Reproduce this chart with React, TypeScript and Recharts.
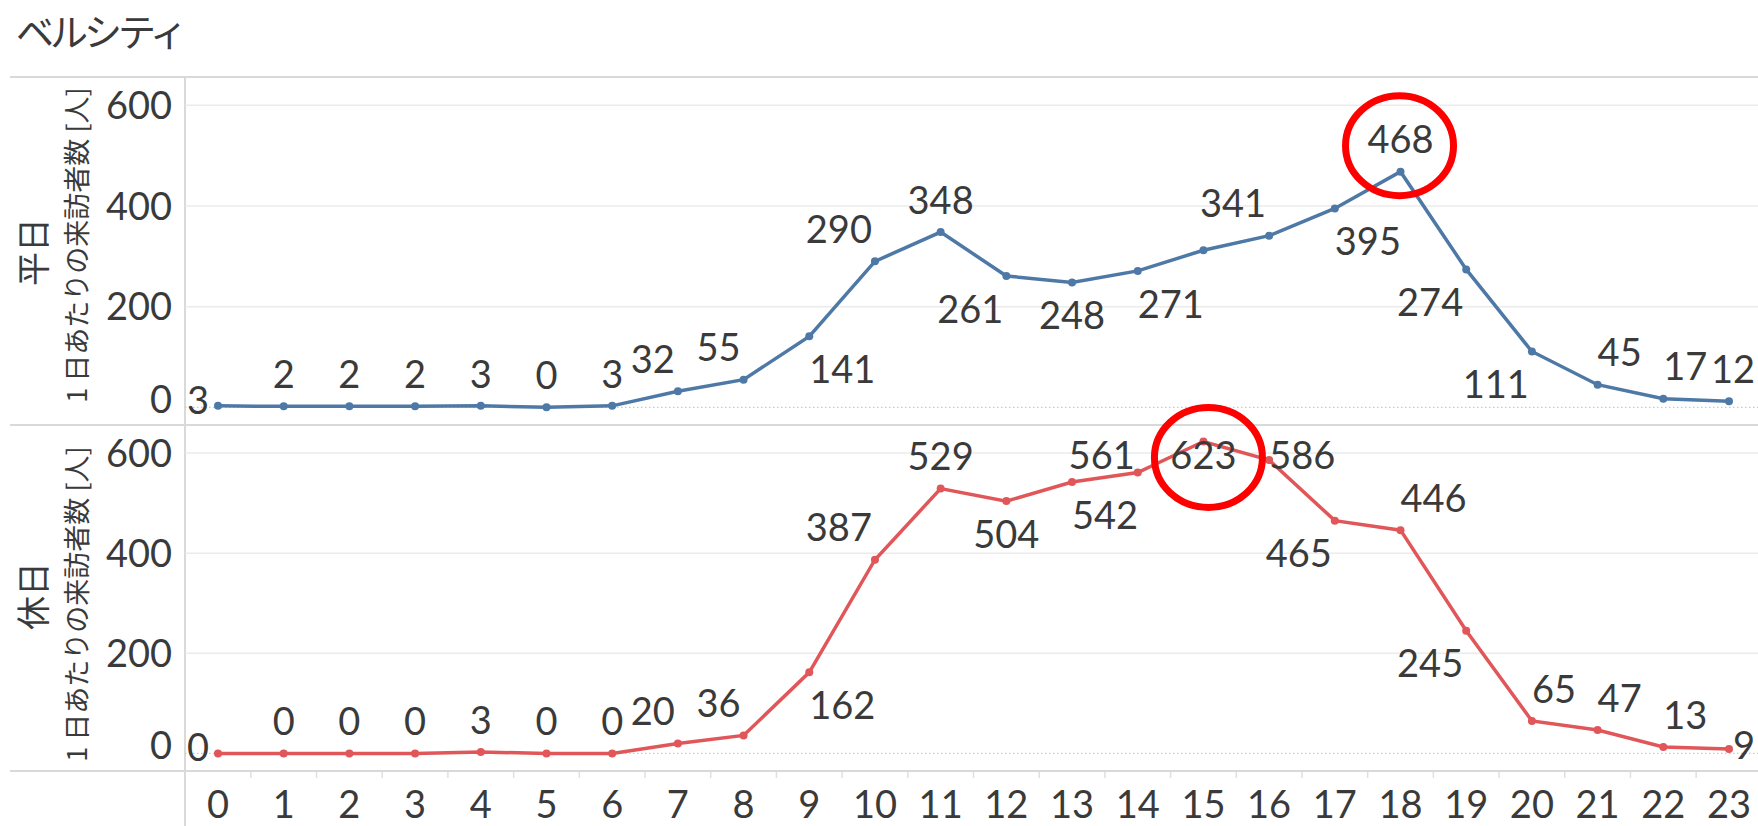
import { LineChart, Line, XAxis, YAxis, ReferenceLine, ReferenceDot, LabelList } from 'recharts'

// hourly visitors per day, ベルシティ
const HOURS = ['0', '1', '2', '3', '4', '5', '6', '7', '8', '9', '10', '11', '12', '13', '14', '15', '16', '17', '18', '19', '20', '21', '22', '23']
const WEEKDAY = [3, 2, 2, 2, 3, 0, 3, 32, 55, 141, 290, 348, 261, 248, 271, 312, 341, 395, 468, 274, 111, 45, 17, 12]
const HOLIDAY = [0, 0, 0, 0, 3, 0, 0, 20, 36, 162, 387, 529, 504, 542, 561, 623, 586, 465, 446, 245, 65, 47, 13, 9]
const Y_TICKS = [0, 200, 400, 600]

// where each value label sits relative to its point (t/b = above/below, l/r = side)
const WEEKDAY_LABEL_POS = ['l', 't', 't', 't', 't', 't', 't', 'tl', 'tl', 'br', 'tl', 't', 'bl', 'b', 'br', '', 'tl', 'br', 't', 'bl', 'bl', 'tr', 'tr', 'tr']
const HOLIDAY_LABEL_POS = ['l', 't', 't', 't', 't', 't', 't', 'tl', 'tl', 'br', 'tl', 't', 'b', 'br', 'tl', 't', 'tr', 'bl', 'tr', 'bl', 'tr', 'tr', 'tr', 'r']

const data = HOURS.map((hour, i) => ({ hour, weekday: WEEKDAY[i], holiday: HOLIDAY[i] }))

const BLUE = '#4e79a7'
const RED = '#e15759'
const TEXT = '#3a3a3a'
const BORDER = '#d9d9d9'
const NUM_FONT = 'Lato, "Noto Sans", sans-serif'
const JP_FONT = '"Noto Sans CJK JP", "Noto Sans", sans-serif'
const FS = 38

const W = 1758
const AXIS_W = 185
const PAD_L = 33
const PAD_R = 29
const STEP = (W - AXIS_W - PAD_L - PAD_R) / (HOURS.length - 1)
const DOMAIN: [number, number] = [-35, 656]
const TOP_M = 30

const makeLabel = (places: string[]) => (props: any) => {
  const vb = props.viewBox || {}
  const px = props.x ?? vb.x
  const py = props.y ?? vb.y
  const p = places[props.index]
  if (!p || px == null || py == null) return null
  let cy = py
  let dx = 0
  let anchor: 'start' | 'middle' | 'end' = 'middle'
  if (p[0] === 't') cy = py - 32
  else if (p[0] === 'b') cy = py + 33
  else if (p === 'l') {
    cy = py - 6
    dx = -9
    anchor = 'end'
  } else if (p === 'r') {
    cy = py - 4
    dx = 6
    anchor = 'start'
  }
  if (p.length === 2) {
    if (p[1] === 'l') {
      anchor = 'end'
      dx = -3
    } else {
      anchor = 'start'
      dx = 0
    }
  }
  let tx = px + dx
  if (anchor === 'start') {
    // nudge back inside the right edge
    const width = String(props.value).length * FS * 0.58
    tx = Math.min(tx, W - 3 - width)
  }
  // keep labels inside the pane
  cy = Math.max(cy, TOP_M + 30)
  return (
    <text x={tx} y={cy + FS * 0.36} textAnchor={anchor} fill={TEXT} fontSize={FS} fontFamily={NUM_FONT}>
      {props.value}
    </text>
  )
}

const YTick = (props: any) => {
  const { x, y, payload } = props
  const shift = payload.value === 0 ? -8 : 0
  return (
    <text x={x} y={y + shift + FS * 0.36} textAnchor="end" fill={TEXT} fontSize={FS} fontFamily={NUM_FONT}>
      {payload.value}
    </text>
  )
}

const XTick = (props: any) => {
  const { x, y, payload, index } = props
  const half = STEP / 2
  return (
    <g>
      {index > 0 && <line x1={x - half} x2={x - half} y1={y + 1} y2={y + 7} stroke="#e0e0e0" strokeWidth={1.5} />}
      <text x={x} y={y + 33 + FS * 0.36} textAnchor="middle" fill={TEXT} fontSize={FS} fontFamily={NUM_FONT}>
        {payload.value}
      </text>
    </g>
  )
}

const Highlight = (dy: number, dx: number) => (props: any) => (
  <ellipse cx={props.cx + dx} cy={props.cy + dy} rx={54} ry={50} fill="none" stroke="#ff0000" strokeWidth={7} />
)

function Pane({ dataKey, color, places, peakHour, peakValue, circleDx, circleDy, showX, top, height }: any) {
  return (
    <div style={{ position: 'absolute', left: 0, top }}>
      <LineChart width={W} height={height} data={data} margin={{ top: TOP_M, right: 0, bottom: 0, left: 0 }}>
        <XAxis
          dataKey="hour"
          hide={!showX}
          height={55}
          padding={{ left: PAD_L, right: PAD_R }}
          axisLine={false}
          tickLine={false}
          tickSize={0}
          tickMargin={0}
          interval={0}
          tick={<XTick />}
        />
        <YAxis
          width={AXIS_W}
          domain={DOMAIN}
          allowDataOverflow
          ticks={Y_TICKS}
          axisLine={false}
          tickLine={false}
          tickSize={0}
          tickMargin={13}
          tick={<YTick />}
        />
        {Y_TICKS.filter((v) => v > 0).map((v) => (
          <ReferenceLine key={v} y={v} stroke="#ebebeb" strokeWidth={1.5} />
        ))}
        <ReferenceLine y={0} stroke="#c9c9c9" strokeWidth={1.2} strokeDasharray="1.5 2.5" />
        <Line
          type="linear"
          dataKey={dataKey}
          stroke={color}
          strokeWidth={3.5}
          dot={{ r: 4, fill: color, stroke: color, strokeWidth: 0 }}
          activeDot={false}
          isAnimationActive={false}
        >
          <LabelList dataKey={dataKey} content={makeLabel(places)} />
        </Line>
        <ReferenceDot x={peakHour} y={peakValue} r={1} ifOverflow="visible" shape={Highlight(circleDy, circleDx)} />
      </LineChart>
    </div>
  )
}

const Rotated = ({ cx, cy, size, children }: any) => (
  <div
    style={{
      position: 'absolute',
      left: cx,
      top: cy,
      transform: 'translate(-50%, -50%) rotate(-90deg)',
      whiteSpace: 'nowrap',
      lineHeight: 1,
      fontSize: size,
      fontFamily: JP_FONT,
      color: TEXT,
    }}
  >
    {children}
  </div>
)

export default function App() {
  return (
    <div style={{ position: 'fixed', left: 0, top: 0, width: W, height: 826, background: '#fff', overflow: 'hidden' }}>
      <div style={{ position: 'absolute', left: 16, top: 11, fontSize: 38, lineHeight: '38px', fontFamily: JP_FONT, color: TEXT, letterSpacing: -4 }}>
        ベルシティ
      </div>

      <div style={{ position: 'absolute', left: 10, top: 76, width: W - 10, height: 2, background: BORDER }} />
      <div style={{ position: 'absolute', left: 10, top: 424, width: W - 10, height: 2, background: BORDER }} />
      <div style={{ position: 'absolute', left: 10, top: 770, width: W - 10, height: 2, background: BORDER }} />
      <div style={{ position: 'absolute', left: 184, top: 77, width: 2, height: 749, background: BORDER }} />

      <Rotated cx={32} cy={252} size={34}>平日</Rotated>
      <Rotated cx={75} cy={245} size={27}>1 日あたりの来訪者数 [人]</Rotated>
      <Rotated cx={32} cy={596} size={34}>休日</Rotated>
      <Rotated cx={75} cy={604} size={27}>1 日あたりの来訪者数 [人]</Rotated>

      <Pane dataKey="weekday" color={BLUE} places={WEEKDAY_LABEL_POS} peakHour="18" peakValue={468} circleDx={-1} circleDy={-26} showX={false} top={47} height={378} />
      <Pane dataKey="holiday" color={RED} places={HOLIDAY_LABEL_POS} peakHour="15" peakValue={623} circleDx={5} circleDy={16} showX top={395} height={431} />
    </div>
  )
}
